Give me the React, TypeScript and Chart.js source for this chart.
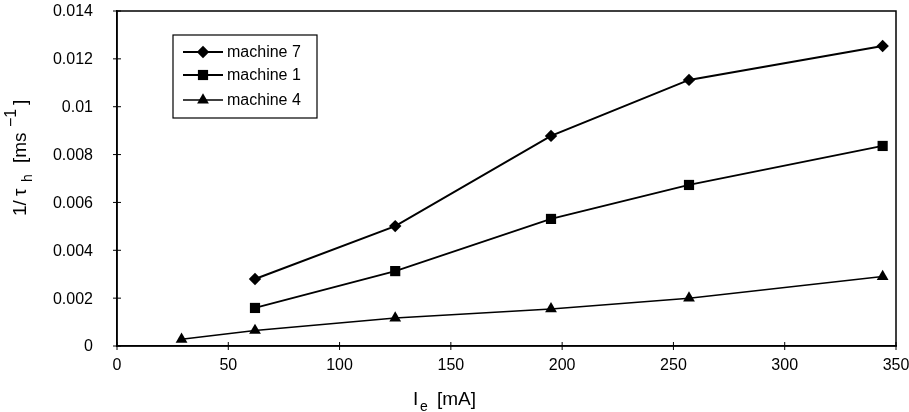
import React, { useEffect, useRef } from "react";
import { Chart, registerables } from "chart.js";

Chart.register(...registerables);

const seriesLabels = ["machine 7", "machine 1", "machine 4"];
const m7X = [62, 125, 195, 257, 344];
const m7Y = [0.0028, 0.00501, 0.00878, 0.01112, 0.01254];
const m1X = [62, 125, 195, 257, 344];
const m1Y = [0.00159, 0.00313, 0.00531, 0.00673, 0.00836];
const m4X = [29, 62, 125, 195, 257, 344];
const m4Y = [0.00028, 0.00065, 0.00117, 0.00155, 0.002, 0.0029];
const pointStyles = ["rectRot", "rect", "triangle"];
const pointRadii = [6.2, 7.2, 6.8];
const lineWidths = [2, 1.8, 1.5];
const yTickValues = [0, 0.002, 0.004, 0.006, 0.008, 0.01, 0.012, 0.014];
const yTickLabels = ["0", "0.002", "0.004", "0.006", "0.008", "0.01", "0.012", "0.014"];
const xTickValues = [0, 50, 100, 150, 200, 250, 300, 350];
const xTickLabels = ["0", "50", "100", "150", "200", "250", "300", "350"];

const FONT = "'Liberation Sans', Arial, Helvetica, sans-serif";
const W = 909;
const H = 412;

type Seg = { t: string; k: "n" | "sub" | "sup"; at: number };
const yTitle: Seg[] = [
  { t: "1/", k: "n", at: 1 },
  { t: "τ", k: "n", at: 21 },
  { t: "h", k: "sub", at: 35 },
  { t: "[ms", k: "n", at: 54 },
  { t: "−1", k: "sup", at: 90 },
  { t: "]", k: "n", at: 112 },
];
const xTitle: Seg[] = [
  { t: "I", k: "n", at: 0 },
  { t: "e", k: "sub", at: 7 },
  { t: "[mA]", k: "n", at: 24 },
];

function drawRich(ctx: CanvasRenderingContext2D, segs: Seg[], sx: number, sy: number, rot: number) {
  ctx.save();
  ctx.translate(sx, sy);
  ctx.rotate(rot);
  ctx.fillStyle = "#000";
  ctx.textBaseline = "middle";
  ctx.textAlign = "left";
  segs.forEach((s) => {
    ctx.font = s.k === "n" ? `19px ${FONT}` : s.k === "sup" ? `16px ${FONT}` : `14px ${FONT}`;
    const dy = s.k === "sub" ? 7 : s.k === "sup" ? -9 : 0;
    ctx.fillText(s.t, s.at, dy);
  });
  ctx.restore();
}

function drawMarker(ctx: CanvasRenderingContext2D, style: string, r: number, x: number, y: number) {
  ctx.beginPath();
  if (style === "rectRot") {
    ctx.moveTo(x, y - r);
    ctx.lineTo(x + r, y);
    ctx.lineTo(x, y + r);
    ctx.lineTo(x - r, y);
  } else if (style === "rect") {
    const s = Math.SQRT1_2 * r;
    ctx.rect(x - s, y - s, 2 * s, 2 * s);
  } else {
    const h = Math.sin(Math.PI / 3) * r;
    ctx.moveTo(x, y - r);
    ctx.lineTo(x + h, y + r / 2);
    ctx.lineTo(x - h, y + r / 2);
  }
  ctx.closePath();
  ctx.fill();
}

const decorPlugin = {
  id: "decor",
  afterDraw(chart: any) {
    const { ctx, chartArea: a, scales } = chart;
    ctx.save();
    ctx.strokeStyle = "#000";
    ctx.lineWidth = 1.5;
    ctx.strokeRect(a.left, a.top, a.right - a.left, a.bottom - a.top);

    ctx.lineWidth = 1;
    ctx.beginPath();
    xTickValues.forEach((v) => {
      const px = scales.x.getPixelForValue(v);
      ctx.moveTo(px, a.bottom + 4);
      ctx.lineTo(px, a.bottom - 4);
    });
    yTickValues.forEach((v) => {
      const py = scales.y.getPixelForValue(v);
      ctx.moveTo(a.left - 4, py);
      ctx.lineTo(a.left + 4, py);
    });
    ctx.stroke();
    ctx.fillStyle = "#000";
    ctx.font = `16px ${FONT}`;
    ctx.textBaseline = "middle";
    ctx.textAlign = "center";
    xTickValues.forEach((v, i) => {
      ctx.fillText(xTickLabels[i], scales.x.getPixelForValue(v), a.bottom + 20);
    });
    ctx.textAlign = "right";
    yTickValues.forEach((v, i) => {
      ctx.fillText(yTickLabels[i], a.left - 24, scales.y.getPixelForValue(v) + 1);
    });

    // legend
    const lx = a.left + 56;
    const ly = a.top + 24;
    const lw = 144;
    const lh = 83;
    ctx.fillStyle = "#fff";
    ctx.fillRect(lx, ly, lw, lh);
    ctx.lineWidth = 1.2;
    ctx.strokeRect(lx, ly, lw, lh);
    const rowY = [17, 40, 65];
    chart.data.datasets.forEach((ds: any, i: number) => {
      const y = ly + rowY[i];
      ctx.lineWidth = ds.borderWidth;
      ctx.strokeStyle = "#000";
      ctx.beginPath();
      ctx.moveTo(lx + 10, y);
      ctx.lineTo(lx + 50, y);
      ctx.stroke();
      ctx.fillStyle = "#000";
      drawMarker(ctx, ds.pointStyle, ds.pointRadius, lx + 30, y);
      ctx.font = `16px ${FONT}`;
      ctx.textBaseline = "middle";
      ctx.textAlign = "left";
      ctx.fillText(ds.label, lx + 54, y + 1);
    });

    drawRich(ctx, yTitle, 21, 217, -Math.PI / 2);
    drawRich(ctx, xTitle, 413, 400, 0);
    ctx.restore();
  },
};

function zeroPad(s: any) {
  s.paddingTop = 0;
  s.paddingBottom = 0;
  s.paddingLeft = 0;
  s.paddingRight = 0;
}

export default function App() {
  const ref = useRef<HTMLCanvasElement | null>(null);
  useEffect(() => {
    if (!ref.current) return;
    Chart.defaults.font.family = FONT;
    const xs = [m7X, m1X, m4X];
    const ys = [m7Y, m1Y, m4Y];
    const chart = new Chart(ref.current, {
      type: "line",
      data: {
        datasets: seriesLabels.map((label, i) => ({
          label,
          data: xs[i].map((x, j) => ({ x, y: ys[i][j] })),
          borderColor: "#000",
          backgroundColor: "#000",
          borderWidth: lineWidths[i],
          pointStyle: pointStyles[i] as any,
          pointRadius: pointRadii[i],
          pointBorderWidth: 0,
          pointBackgroundColor: "#000",
          tension: 0,
        })),
      },
      options: {
        animation: false,
        responsive: false,
        maintainAspectRatio: false,
        layout: { autoPadding: false, padding: { top: 11, right: 13, left: 0, bottom: 0 } },
        plugins: { legend: { display: false }, tooltip: { enabled: false } },
        scales: {
          x: {
            type: "linear",
            min: 0,
            max: 350,
            border: { display: true, color: "#000", width: 1.5 },
            grid: { display: false },
            ticks: { display: false, stepSize: 50 },
            afterFit: (s: any) => {
              s.height = 66;
              zeroPad(s);
            },
          },
          y: {
            type: "linear",
            min: 0,
            max: 0.014,
            border: { display: true, color: "#000", width: 1.5 },
            grid: { display: false },
            ticks: { display: false, stepSize: 0.002 },
            afterFit: (s: any) => {
              s.width = 117;
              zeroPad(s);
            },
          },
        },
      },
      plugins: [decorPlugin],
    });
    return () => chart.destroy();
  }, []);
  return (
    <div style={{ position: "fixed", left: 0, top: 0, width: W, height: H, background: "#fff" }}>
      <canvas ref={ref} width={W} height={H} style={{ width: W, height: H, display: "block" }} />
    </div>
  );
}
